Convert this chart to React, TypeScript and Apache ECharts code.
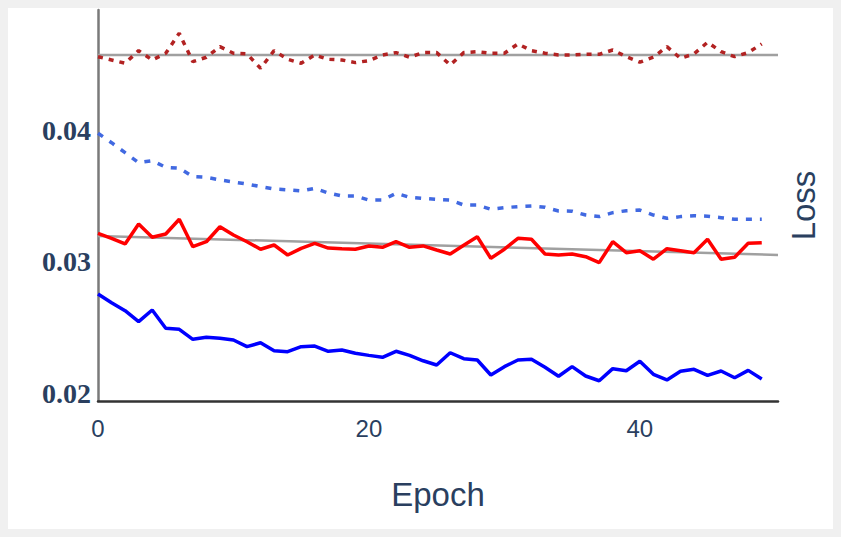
import React, { useEffect, useRef } from "react";
import * as echarts from "echarts";

const epochs: number[] = Array.from({ length: 50 }, (_, i) => i);

const valDotted: number[] = [
  0.04561, 0.04536, 0.04511, 0.04607, 0.04536, 0.04587, 0.04739, 0.04523, 0.04557, 0.04637,
  0.04587, 0.04582, 0.04473, 0.04607, 0.04541, 0.04511, 0.04574, 0.04541, 0.04536, 0.04516,
  0.04531, 0.04574, 0.04592, 0.04557, 0.04592, 0.04592, 0.04498, 0.04592, 0.04599, 0.04587,
  0.04587, 0.04658, 0.04607, 0.04587, 0.04574, 0.04574, 0.04579, 0.04579, 0.04612, 0.04561,
  0.04519, 0.04557, 0.04637, 0.04549, 0.04582, 0.04671, 0.04599, 0.04561, 0.04592, 0.04658,
];

const trainDotted: number[] = [
  0.03979, 0.03907, 0.03831, 0.03755, 0.0377, 0.0372, 0.03713, 0.03649, 0.03644, 0.03624,
  0.03608, 0.03593, 0.03573, 0.03555, 0.03548, 0.0354, 0.0356, 0.03525, 0.03502, 0.03502,
  0.03471, 0.03471, 0.03522, 0.03492, 0.03484, 0.03477, 0.03471, 0.03433, 0.03433, 0.03401,
  0.03413, 0.03421, 0.03426, 0.03416, 0.03388, 0.03386, 0.03357, 0.03345, 0.03375, 0.0339,
  0.03395, 0.03357, 0.03332, 0.03345, 0.03352, 0.03348, 0.03337, 0.03325, 0.03325, 0.03325,
];

const valSolid: number[] = [
  0.03218, 0.0318, 0.03137, 0.03289, 0.03188, 0.03213, 0.03325, 0.03116, 0.03154, 0.03268,
  0.03205, 0.03154, 0.03097, 0.03129, 0.03053, 0.03104, 0.03142, 0.03106, 0.03101, 0.03097,
  0.03122, 0.03112, 0.03154, 0.03112, 0.03122, 0.03091, 0.03061, 0.03127, 0.03192, 0.03028,
  0.03097, 0.0318, 0.03173, 0.03061, 0.03053, 0.03061, 0.0304, 0.02995, 0.03154, 0.03071,
  0.03086, 0.03021, 0.03101, 0.03086, 0.03071, 0.03173, 0.03021, 0.03036, 0.03142, 0.03147,
];

const trainSolid: number[] = [
  0.02757, 0.0269, 0.0263, 0.02546, 0.02635, 0.02496, 0.02488, 0.02412, 0.02427, 0.0242,
  0.02407, 0.02356, 0.02386, 0.02325, 0.02318, 0.02356, 0.02361, 0.02321, 0.02331, 0.02306,
  0.0229, 0.02275, 0.02321, 0.0229, 0.02249, 0.02217, 0.0231, 0.02265, 0.02255, 0.02141,
  0.02204, 0.02255, 0.0226, 0.02199, 0.02131, 0.02204, 0.02133, 0.02097, 0.02189, 0.02173,
  0.02245, 0.02146, 0.02103, 0.02169, 0.02184, 0.02138, 0.02171, 0.0212, 0.02176, 0.0211,
];

// reference (gray) lines: [value at x start, value at x end]
const trendX: number[] = [0, 50.2];
const refHigh: number[] = [0.04574, 0.04574];
const refLow: number[] = [0.03198, 0.03053];

const yTicks: number[] = [0.02, 0.03, 0.04];
const xTicks: number[] = [0, 20, 40];

const TXT = "#2a3f5f";

export default function App() {
  const ref = useRef<HTMLDivElement>(null);
  useEffect(() => {
    document.body.style.background = "#f0f0f0";
    const chart = echarts.init(ref.current!, null, { renderer: "svg" });
    const pair = (xs: number[], ys: number[]) => xs.map((x, i) => [x, ys[i]]);
    chart.setOption({
      animation: false,
      backgroundColor: "#ffffff",
      grid: { left: 90, right: 55, top: 2, bottom: 128, containLabel: false },
      xAxis: {
        type: "value",
        min: 0,
        max: 50.2,
        interval: 20,
        name: "Epoch",
        nameLocation: "middle",
        nameGap: 77,
        nameTextStyle: { fontSize: 33, color: TXT, fontFamily: "Liberation Sans, Arial, sans-serif" },
        axisLine: { show: true, lineStyle: { color: "#333333", width: 2.5 } },
        axisTick: { show: false },
        splitLine: { show: false },
        axisLabel: {
          margin: 15,
          fontSize: 24,
          color: TXT,
          fontFamily: "Liberation Sans, Arial, sans-serif",
          customValues: xTicks,
          formatter: (v: number) => String(v),
        },
      },
      yAxis: [
        {
          type: "value",
          min: 0.01943,
          max: 0.04916,
          axisLine: { show: true, lineStyle: { color: "#7a7a7a", width: 2.5 } },
          axisTick: { show: false },
          splitLine: { show: false },
          axisLabel: {
            margin: 7,
            fontSize: 28,
            fontWeight: "bold",
            color: TXT,
            fontFamily: "Liberation Serif, Times New Roman, serif",
            customValues: yTicks,
            formatter: (v: number) => v.toFixed(2),
          },
        },
        {
          type: "value",
          position: "right",
          min: 0.01943,
          max: 0.04916,
          name: "Loss",
          nameLocation: "middle",
          nameRotate: 90,
          nameGap: 9,
          nameTextStyle: { fontSize: 33, color: TXT, fontFamily: "Liberation Sans, Arial, sans-serif" },
          axisLine: { show: false },
          axisTick: { show: false },
          axisLabel: { show: false },
          splitLine: { show: false },
        },
      ],
      series: [
        {
          type: "line",
          data: pair(trendX, refHigh),
          showSymbol: false,
          lineStyle: { color: "#a0a0a0", width: 2.5 },
          z: 1,
        },
        {
          type: "line",
          data: pair(trendX, refLow),
          showSymbol: false,
          lineStyle: { color: "#a0a0a0", width: 2.5 },
          z: 1,
        },
        {
          type: "line",
          data: pair(epochs, valDotted),
          showSymbol: false,
          lineStyle: { color: "#b22222", width: 3.5, type: [5, 6] },
          z: 2,
        },
        {
          type: "line",
          data: pair(epochs, trainDotted),
          showSymbol: false,
          lineStyle: { color: "#4169e1", width: 3.5, type: [6, 8] },
          z: 2,
        },
        {
          type: "line",
          data: pair(epochs, valSolid),
          showSymbol: false,
          lineStyle: { color: "#ff0000", width: 3.5 },
          z: 2,
        },
        {
          type: "line",
          data: pair(epochs, trainSolid),
          showSymbol: false,
          lineStyle: { color: "#0000ff", width: 3.5 },
          z: 2,
        },
      ],
    });
    return () => chart.dispose();
  }, []);
  return <div ref={ref} style={{ width: 825, height: 521, background: "#ffffff" }} />;
}
